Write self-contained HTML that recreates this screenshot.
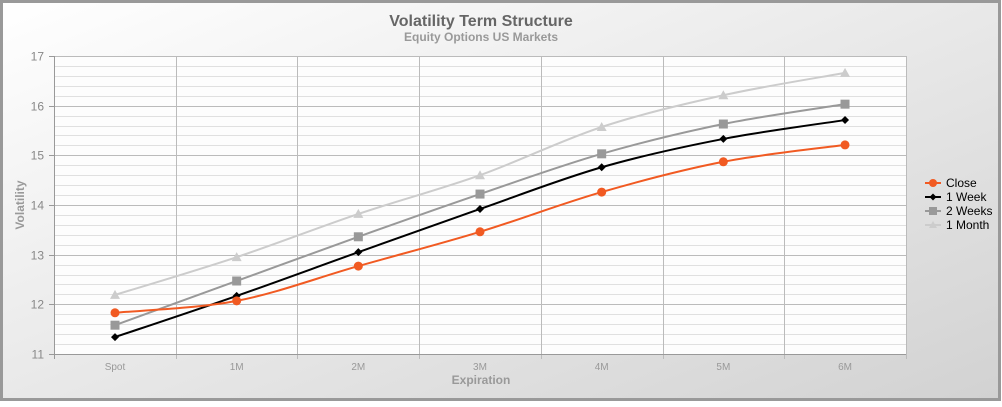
<!DOCTYPE html>
<html><head><meta charset="utf-8"><style>
body{margin:0;width:1002px;height:402px;overflow:hidden;font-family:"Liberation Sans",sans-serif}
</style></head><body>
<svg id="s" width="1002" height="402" xmlns="http://www.w3.org/2000/svg">
<defs><linearGradient id="bg" x1="0" y1="0" x2="1" y2="1">
<stop offset="0" stop-color="#ffffff"/><stop offset="1" stop-color="#d2d2d2"/></linearGradient></defs>
<rect x="1.5" y="1.5" width="998" height="398" fill="url(#bg)" stroke="#999" stroke-width="3"/>
<rect x="54" y="56" width="852" height="298" fill="#fdfdfd"/>
<g id="grid"></g>
<text x="481" y="26" text-anchor="middle" font-size="16" font-weight="bold" fill="#666">Volatility Term Structure</text>
<text x="481" y="41" text-anchor="middle" font-size="12" font-weight="bold" fill="#999">Equity Options US Markets</text>
<text x="481" y="384" text-anchor="middle" font-size="12" font-weight="bold" fill="#999">Expiration</text>
<text transform="translate(24,205) rotate(-90)" text-anchor="middle" font-size="12" font-weight="bold" fill="#999">Volatility</text>
<g id="ser"></g>
<g font-size="12" fill="#000">
<line x1="925" y1="183" x2="941" y2="183" stroke="#f15a22" stroke-width="2"/><circle cx="933" cy="183" r="4" fill="#f15a22"/><text x="946" y="187">Close</text>
<line x1="925" y1="197" x2="941" y2="197" stroke="#000" stroke-width="2"/><path d="M933 193.5L936.5 197L933 200.5L929.5 197Z"/><text x="946" y="201">1 Week</text>
<line x1="925" y1="211" x2="941" y2="211" stroke="#999" stroke-width="2"/><rect x="929" y="207" width="8" height="8" fill="#999"/><text x="946" y="215">2 Weeks</text>
<line x1="925" y1="225" x2="941" y2="225" stroke="#ccc" stroke-width="2"/><path d="M933 221L937 228H929Z" fill="#ccc"/><text x="946" y="229">1 Month</text>
</g>
</svg>
<script>
const NS="http://www.w3.org/2000/svg",g=document.getElementById('grid'),s=document.getElementById('ser');
function el(p,t,a,tx){const e=document.createElementNS(NS,t);for(const k in a)e.setAttribute(k,a[k]);if(tx!=null)e.textContent=tx;p.appendChild(e);return e;}
const Y=v=>354-(v-11)*49.67, X=i=>115+i*121.67;
for(let v=11;v<=17.001;v+=0.2){const y=Math.round(Y(v))+0.5;const maj=Math.abs(v-Math.round(v))<1e-6;
el(g,'line',{x1:54,x2:906,y1:y,y2:y,stroke:maj?'#bbb':'#e0e0e0','stroke-width':1});
if(maj){el(g,'line',{x1:49,x2:54,y1:y,y2:y,stroke:'#999'});el(g,'text',{x:44,y:y+4,'text-anchor':'end','font-size':12,fill:'#888'},Math.round(v));}}
for(let i=0;i<=7;i++){const x=Math.round(54+i*121.7)+0.5;el(g,'line',{x1:x,x2:x,y1:56,y2:359,stroke:i==0?'#999':'#bbb'});}
el(g,'line',{x1:54,x2:906,y1:354.5,y2:354.5,stroke:'#999'});
el(g,'line',{x1:906.5,x2:906.5,y1:56,y2:354,stroke:'#bbb'});
['Spot','1M','2M','3M','4M','5M','6M'].forEach((t,i)=>el(g,'text',{x:X(i),y:370,'text-anchor':'middle','font-size':10,fill:'#999'},t));
const data=[
['#ccc','tri',[12.19,12.95,13.82,14.60,15.57,16.21,16.66]],
['#999','sq',[11.58,12.47,13.36,14.22,15.03,15.63,16.03]],
['#000','dia',[11.34,12.17,13.05,13.92,14.76,15.33,15.71]],
['#f15a22','cir',[11.83,12.07,12.77,13.46,14.26,14.87,15.21]]];
data.forEach(([c,m,d])=>{const p=d.map((v,i)=>[X(i),Y(v)]);
let path='M'+p[0];for(let i=0;i<p.length-1;i++){const p0=p[i-1]||p[i],p1=p[i],p2=p[i+1],p3=p[i+2]||p2;const k=6;
path+=`C${p1[0]+(p2[0]-p0[0])/k},${p1[1]+(p2[1]-p0[1])/k} ${p2[0]-(p3[0]-p1[0])/k},${p2[1]-(p3[1]-p1[1])/k} ${p2[0]},${p2[1]}`;}
el(s,'path',{d:path,fill:'none',stroke:c,'stroke-width':2});
p.forEach(([x,y])=>{if(m=='cir')el(s,'circle',{cx:x,cy:y,r:4.5,fill:c});
else if(m=='sq')el(s,'rect',{x:x-4.5,y:y-4.5,width:9,height:9,fill:c});
else if(m=='dia')el(s,'path',{d:`M${x} ${y-4}L${x+4} ${y}L${x} ${y+4}L${x-4} ${y}Z`,fill:c});
else el(s,'path',{d:`M${x} ${y-5}L${x+5} ${y+4}L${x-5} ${y+4}Z`,fill:c});});});
</script>
</body></html>
